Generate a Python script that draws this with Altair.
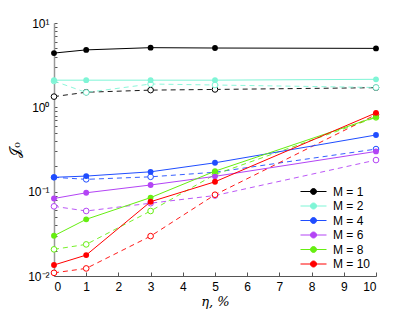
import altair as alt
import pandas as pd

# ---- data ----
eta = [0, 1, 3, 5, 10]
labels = ["M = 1", "M = 2", "M = 4", "M = 6", "M = 8", "M = 10"]
colors = ["#000000", "#7ff5d6", "#1f4dff", "#b344f5", "#66ee11", "#ff0000"]

solid_M1 = [4.4, 4.8, 5.1, 5.05, 5.0]
solid_M2 = [2.1, 2.1, 2.1, 2.1, 2.15]
solid_M4 = [0.148, 0.153, 0.172, 0.22, 0.47]
solid_M6 = [0.083, 0.097, 0.12, 0.152, 0.30]
solid_M8 = [0.030, 0.047, 0.085, 0.175, 0.77]
solid_M10 = [0.0135, 0.0177, 0.076, 0.131, 0.86]

dashed_M1 = [1.34, 1.51, 1.60, 1.63, 1.71]
dashed_M2 = [2.05, 1.5, 1.89, 1.84, 1.72]
dashed_M4 = [0.148, 0.14, 0.15, 0.17, 0.32]
dashed_M6 = [0.067, 0.059, 0.073, 0.09, 0.237]
dashed_M8 = [0.0207, 0.0237, 0.059, 0.16, 0.76]
dashed_M10 = [0.0109, 0.0123, 0.0297, 0.092, 0.82]

x_ticks = [0, 1, 2, 3, 4, 5, 6, 7, 8, 9, 10]
y_major = [0.01, 0.1, 1, 10]
y_minor = [0.02, 0.03, 0.04, 0.05, 0.06, 0.07, 0.08, 0.09,
           0.2, 0.3, 0.4, 0.5, 0.6, 0.7, 0.8, 0.9,
           2, 3, 4, 5, 6, 7, 8, 9]

solid = [solid_M1, solid_M2, solid_M4, solid_M6, solid_M8, solid_M10]
dashed = [dashed_M1, dashed_M2, dashed_M4, dashed_M6, dashed_M8, dashed_M10]

rows_s, rows_d = [], []
for lab, sv, dv in zip(labels, solid, dashed):
    for e, s, d in zip(eta, sv, dv):
        rows_s.append({"eta": e, "J": s, "M": lab})
        rows_d.append({"eta": e, "J": d, "M": lab})
df_s = pd.DataFrame(rows_s)
df_d = pd.DataFrame(rows_d)

W, H = 322, 253
FONT = "Liberation Sans"
xscale = alt.Scale(domain=[0, 10], nice=False, zero=False)
yscale = alt.Scale(type="log", domain=[0.01, 10], nice=False)
cscale = alt.Scale(domain=labels, range=colors)

label_expr = ("datum.value >= 9 ? '10¹' : datum.value >= 0.9 ? '10⁰' : "
              "datum.value >= 0.09 ? '10⁻¹' : '10⁻²'")

main_x_axis = alt.Axis(values=x_ticks, ticks=False, grid=False, labelPadding=5,
                       domainColor="#555555", labelFontSize=12, labelFont=FONT,
                       labelColor="#000",
                       title="η, %", titleFontStyle="italic", titleFontWeight="normal",
                       titleFontSize=13, titlePadding=3, titleFont="DejaVu Serif",
                       titleColor="#000")
main_y_axis = alt.Axis(values=y_major, labelExpr=label_expr, ticks=False, grid=False,
                       labelPadding=5, domainColor="#999999", domainWidth=1.5,
                       labelFontSize=12, labelFont=FONT, labelColor="#000",
                       title="𝒥₀", titleFontWeight="normal", titleFontSize=14,
                       titlePadding=5, titleFont="DejaVu Serif", titleColor="#000")

tick_x_axis = alt.Axis(orient="top", offset=-H, values=x_ticks, labels=False,
                       domain=False, grid=False, tickSize=4, tickColor="#555555", title=None)
tick_y_axis = alt.Axis(orient="right", offset=-W, values=y_major + y_minor, labels=False,
                       domain=False, grid=False, tickSize=3, tickColor="#555555", title=None)

dash_lines = alt.Chart(df_d).mark_line(strokeDash=[5, 4], strokeWidth=0.9).encode(
    x=alt.X("eta:Q", scale=xscale, axis=tick_x_axis),
    y=alt.Y("J:Q", scale=yscale, axis=tick_y_axis),
    color=alt.Color("M:N", scale=cscale, sort=labels, legend=None),
)

open_pts = alt.Chart(df_d).mark_point(shape="circle", filled=False, fill="white",
                                      size=32, strokeWidth=1, opacity=1).encode(
    x=alt.X("eta:Q", scale=xscale, axis=None),
    y=alt.Y("J:Q", scale=yscale, axis=None),
    color=alt.Color("M:N", scale=cscale, sort=labels, legend=None),
)

solid_lines = alt.Chart(df_s).mark_line(strokeWidth=1).encode(
    x=alt.X("eta:Q", scale=xscale, axis=None),
    y=alt.Y("J:Q", scale=yscale, axis=None),
    color=alt.Color("M:N", scale=cscale, sort=labels, legend=None),
)

legend_path = ("M -1 0 H 1 M 0.23 0 A 0.23 0.23 0 1 1 -0.23 0 "
               "A 0.23 0.23 0 1 1 0.23 0 Z")

common = dict(orient="none", legendX=246, legendY=162,
              title=None, symbolType=legend_path,
              symbolSize=676, clipHeight=13, rowPadding=1.5,
              labelFontSize=12, labelFont=FONT, labelOffset=6,
              labelFontWeight="normal", symbolStrokeWidth=1, padding=0)
legend_fill = alt.Legend(labelColor="#000", **common)
legend_stroke = alt.Legend(labelOpacity=0, symbolFillColor="transparent", **common)

filled_pts = alt.Chart(df_s).mark_point(shape="circle", filled=True, size=34,
                                        opacity=1, strokeWidth=0).encode(
    x=alt.X("eta:Q", scale=xscale, axis=main_x_axis),
    y=alt.Y("J:Q", scale=yscale, axis=main_y_axis),
    color=alt.Color("M:N", scale=cscale, sort=labels, legend=legend_fill),
    stroke=alt.Stroke("M:N", scale=cscale, sort=labels, legend=legend_stroke),
)

chart = alt.layer(dash_lines, open_pts, solid_lines, filled_pts).resolve_axis(
    x="independent", y="independent"
).resolve_legend(color="independent").properties(
    width=W, height=H,
    autosize=alt.AutoSizeParams(type="none"),
    padding={"left": 46, "top": 15, "right": 31, "bottom": 37},
).configure(font=FONT).configure_view(stroke=None)

chart.save("out.html", embed_options={"renderer": "svg", "actions": False})
